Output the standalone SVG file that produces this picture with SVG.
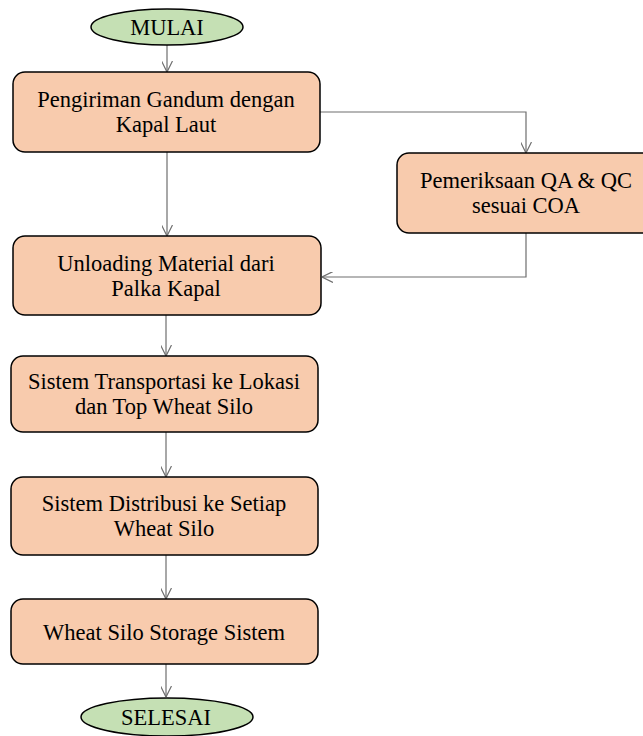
<svg xmlns="http://www.w3.org/2000/svg" width="643" height="736" viewBox="0 0 643 736">
<style>
.box{fill:#f8cbad;stroke:#000;stroke-width:1.5}
.term{fill:#c5e0b4;stroke:#000;stroke-width:1.5}
.t{font-family:"Liberation Serif","Times New Roman",serif;font-size:22.5px;fill:#000;text-anchor:middle}
.c{fill:none;stroke:#6e6e6e;stroke-width:1.2}
</style>
<defs>
<marker id="a" viewBox="0 0 10 10" refX="10" refY="5" markerWidth="11" markerHeight="11" markerUnits="userSpaceOnUse" orient="auto">
<path d="M0,0 L10,5 L0,10" fill="none" stroke="#6e6e6e" stroke-width="1.1"/>
</marker>
</defs>
<g id="connectors">
<path class="c" d="M167,45 V72" marker-end="url(#a)"/>
<path class="c" d="M167,152 V236" marker-end="url(#a)"/>
<path class="c" d="M320,112 H526 V153" marker-end="url(#a)"/>
<path class="c" d="M526,233 V277 H322" marker-end="url(#a)"/>
<path class="c" d="M166,315 V356" marker-end="url(#a)"/>
<path class="c" d="M166,432 V477" marker-end="url(#a)"/>
<path class="c" d="M166,555 V599" marker-end="url(#a)"/>
<path class="c" d="M166,664 V697" marker-end="url(#a)"/>
</g>
<g id="mulai">
<ellipse class="term" cx="167" cy="27" rx="76" ry="18"/>
<text class="t" x="167" y="35">MULAI</text>
</g>
<g id="pengiriman">
<rect class="box" x="13" y="72" width="307" height="80" rx="12"/>
<text class="t" x="166" y="107">Pengiriman Gandum dengan</text>
<text class="t" x="166" y="132">Kapal Laut</text>
</g>
<g id="pemeriksaan">
<rect class="box" x="397" y="153" width="260" height="80" rx="12"/>
<text class="t" x="526" y="188">Pemeriksaan QA &amp; QC</text>
<text class="t" x="526" y="213">sesuai COA</text>
</g>
<g id="unloading">
<rect class="box" x="13" y="236" width="308" height="79" rx="12"/>
<text class="t" x="166" y="271">Unloading Material dari</text>
<text class="t" x="166" y="296">Palka Kapal</text>
</g>
<g id="transportasi">
<rect class="box" x="11" y="356" width="307" height="76" rx="12"/>
<text class="t" x="164" y="389">Sistem Transportasi ke Lokasi</text>
<text class="t" x="164" y="414">dan Top Wheat Silo</text>
</g>
<g id="distribusi">
<rect class="box" x="11" y="477" width="307" height="78" rx="12"/>
<text class="t" x="164" y="511">Sistem Distribusi ke Setiap</text>
<text class="t" x="164" y="536">Wheat Silo</text>
</g>
<g id="storage">
<rect class="box" x="11" y="599" width="307" height="65" rx="12"/>
<text class="t" x="164" y="640">Wheat Silo Storage Sistem</text>
</g>
<g id="selesai">
<ellipse class="term" cx="167" cy="717" rx="86" ry="19"/>
<text class="t" x="166" y="725">SELESAI</text>
</g>
</svg>
